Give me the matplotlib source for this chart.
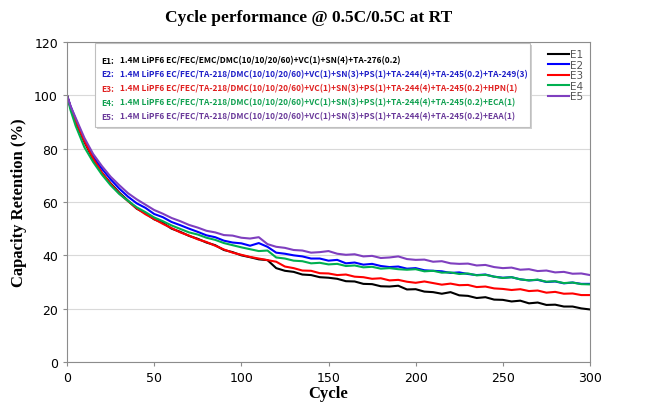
import matplotlib
matplotlib.use("Agg")
import matplotlib.pyplot as plt

# cycle numbers where the curves were sampled
cycles = [0, 2] + list(range(5, 301, 5))

# capacity retention (%), one list per electrolyte
e1 = [100, 95.5, 90, 82.5, 76, 71, 67, 63.5, 60.5, 57.5,
      55.8, 53.5, 52.2, 50, 48.8, 47.3, 46.2, 44.8, 43.8, 42,
      41.2, 40, 39.3, 38.5, 38.2, 35.2, 34.2, 33.8, 32.8, 32.6,
      31.8, 31.6, 31.2, 30.3, 30.2, 29.3, 29.2, 28.4, 28.3, 28.6,
      27.2, 27.3, 26.4, 26.2, 25.6, 26.2, 25.0, 24.8, 24.0, 24.3,
      23.4, 23.3, 22.7, 23.0, 22.0, 22.3, 21.4, 21.5, 20.8, 20.8,
      20.1, 19.7]
e2 = [100, 96, 91, 83, 77, 72.5, 68.5, 65, 62, 59.5,
      57.8, 55.5, 54.3, 52.5, 51.3, 50, 48.8, 47.5, 46.8, 45.5,
      44.8, 44.5, 43.6, 44.6, 43.2, 41.0, 40.6, 40.0, 39.6, 38.8,
      38.8, 38.0, 38.3, 37.0, 37.3, 36.5, 36.8, 36.0, 35.6, 35.8,
      35.0, 35.2, 34.4, 34.2, 34.0, 33.4, 33.6, 33.0, 32.6, 32.8,
      32.0, 31.6, 31.8, 31.0, 30.6, 30.8, 30.0, 30.2, 29.5, 29.8,
      29.3, 29.3]
e3 = [100, 95.5, 90.2, 82.8, 76.3, 71, 66.8, 63.2, 60.3, 57.6,
      55.4, 53.6, 51.8, 50.2, 48.6, 47.4, 46, 45, 43.6, 42.2,
      41, 40.2, 39.4, 38.8, 38.2, 37.6, 35.8, 35.2, 34.3, 34.2,
      33.3, 33.2, 32.6, 32.8, 32, 31.8, 31.2, 31.4, 30.6, 30.8,
      30.1, 29.7, 30.2, 29.6, 29.0, 29.4, 28.8, 28.9, 28.1, 28.3,
      27.6, 27.4, 27.0, 27.3, 26.6, 26.8, 26.0, 26.3, 25.6, 25.7,
      25.1, 25.1]
e4 = [100, 94.5, 88.5, 80.5, 75, 70.3, 66.3, 63, 60.4, 58,
      56.2, 54.2, 52.8, 51.2, 49.9, 48.6, 47.8, 46.6, 45.8, 44.6,
      43.8, 43.0, 42.3, 41.6, 41.8, 39.2, 38.8, 38.0, 37.8, 37.0,
      37.2, 36.6, 36.8, 36.0, 36.2, 35.5, 35.7, 35.0, 35.2, 34.8,
      34.6, 34.8, 34.0, 34.2, 33.5, 33.6, 33.0, 33.2, 32.5, 32.7,
      32.0, 31.5, 31.8, 31.0, 30.6, 30.9, 30.1, 30.3, 29.6, 29.8,
      29.2, 29.1]
e5 = [100, 96, 91.5, 84, 78, 73.5, 69.5, 66.3, 63.3, 61,
      59, 57, 55.6, 54, 52.8, 51.4, 50.4, 49.2, 48.6, 47.6,
      47.4, 46.6, 46.3, 46.8, 44.2, 43.2, 42.8, 42.0, 41.8, 41.0,
      41.2, 41.6, 40.6, 40.2, 40.4, 39.6, 39.8, 39.0, 39.2, 39.6,
      38.6, 38.3, 38.4, 37.6, 37.8, 37.0, 36.8, 36.9, 36.2, 36.4,
      35.6, 35.2, 35.4, 34.6, 34.8, 34.1, 34.3, 33.6, 33.8, 33.1,
      33.2, 32.6]

names = ["E1", "E2", "E3", "E4", "E5"]
colors = ["#000000", "#0000FF", "#FF0000", "#00B050", "#7F3FBF"]
text_colors = ["#000000", "#1F1FC8", "#E02020", "#10A050", "#6A3A9A"]
recipes = [
    "1.4M LiPF6 EC/FEC/EMC/DMC(10/10/20/60)+VC(1)+SN(4)+TA-276(0.2)",
    "1.4M LiPF6 EC/FEC/TA-218/DMC(10/10/20/60)+VC(1)+SN(3)+PS(1)+TA-244(4)+TA-245(0.2)+TA-249(3)",
    "1.4M LiPF6 EC/FEC/TA-218/DMC(10/10/20/60)+VC(1)+SN(3)+PS(1)+TA-244(4)+TA-245(0.2)+HPN(1)",
    "1.4M LiPF6 EC/FEC/TA-218/DMC(10/10/20/60)+VC(1)+SN(3)+PS(1)+TA-244(4)+TA-245(0.2)+ECA(1)",
    "1.4M LiPF6 EC/FEC/TA-218/DMC(10/10/20/60)+VC(1)+SN(3)+PS(1)+TA-244(4)+TA-245(0.2)+EAA(1)",
]

W, H = 670, 410
fig = plt.figure(figsize=(W / 100, H / 100), dpi=100)
ax = fig.add_axes([67 / W, 1 - 363 / H, (590 - 67) / W, (363 - 43) / H])

series = [e1, e2, e3, e4, e5]
for name, vals, c in zip(names, series, colors):
    ax.plot(cycles, vals, color=c, lw=1.5, label=name)

ax.set_xlim(0, 300)
ax.set_ylim(0, 120)
ax.set_xticks(range(0, 301, 50))
ax.set_yticks(range(0, 121, 20))
ax.grid(axis="y", color="#d9d9d9", lw=0.8)
ax.set_axisbelow(True)
for s in ax.spines.values():
    s.set_color("#8c8c8c")
ax.tick_params(colors="#8c8c8c", length=3, labelcolor="black", labelsize=9)
for lab in ax.get_xticklabels() + ax.get_yticklabels():
    lab.set_family("DejaVu Sans")

serif = {"family": "Liberation Serif", "weight": "bold"}
ax.set_xlabel("Cycle", fontsize=12, labelpad=1, **serif)
ax.set_ylabel("Capacity Retention (%)", fontsize=12, labelpad=5, **serif)
fig.text(309 / W, 1 - 18 / H, "Cycle performance @ 0.5C/0.5C at RT",
         ha="center", va="center", fontsize=12.5, **serif)

# line legend in the upper right corner
leg = ax.legend(loc="upper right", bbox_to_anchor=(1.0, 1.0), frameon=False,
                fontsize=7.5, handlelength=2.0, handletextpad=0.1,
                labelspacing=0.05, borderaxespad=0.3)
for t in leg.get_texts():
    t.set_color("#555555")

# recipe box
box = plt.Rectangle((95 / W, 1 - 128 / H), (530 - 95) / W, (128 - 44) / H,
                    transform=fig.transFigure, facecolor="white",
                    edgecolor="#bfbfbf", lw=0.8, zorder=5)
shadow = plt.Rectangle((97 / W, 1 - 130 / H), (530 - 95) / W, (128 - 44) / H,
                       transform=fig.transFigure, facecolor="#d0d0d0",
                       edgecolor="none", zorder=4)
fig.patches.extend([shadow, box])
for i, (name, rec, tc) in enumerate(zip(names, recipes, text_colors)):
    y = 1 - (61 + i * 14) / H
    fig.text(101 / W, y, name + ":", color=tc, fontsize=6.0, va="center",
             family="Noto Sans CJK KR", weight="bold", zorder=6)
    fig.text(120 / W, y, rec, color=tc, fontsize=6.0, va="center",
             family="Noto Sans CJK KR", weight="bold", zorder=6)

fig.savefig("out.png", dpi=100)
